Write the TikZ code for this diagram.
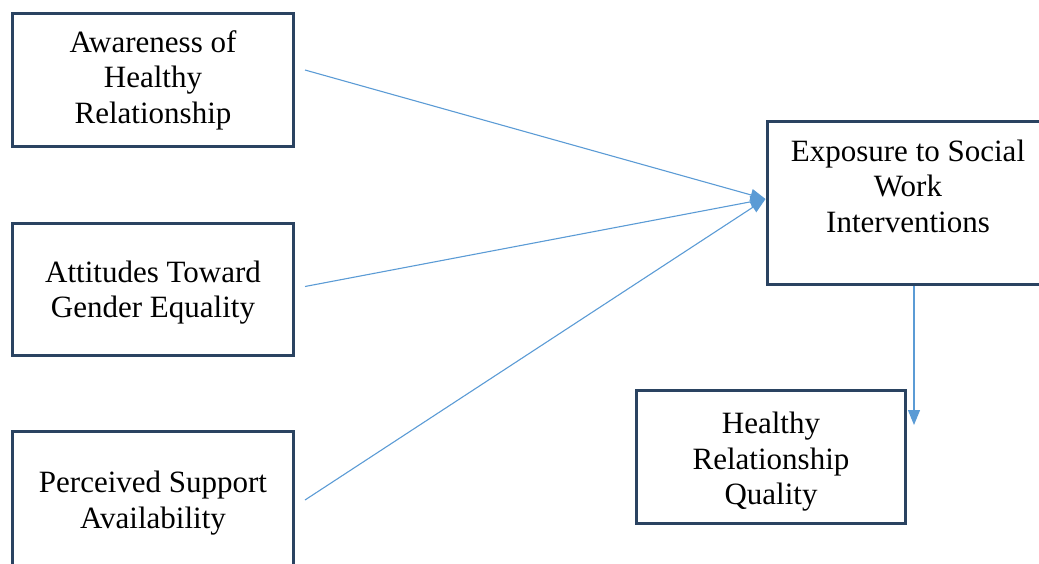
\documentclass[tikz,border=0pt]{standalone}
\usepackage{fontspec}
\setmainfont{Liberation Serif}
\usetikzlibrary{arrows.meta}
\definecolor{boxline}{HTML}{2A4361}
\definecolor{arrowblue}{HTML}{5B9BD5}
\begin{document}
\begin{tikzpicture}[x=1pt,y=-1pt,
  box/.style={draw=boxline, line width=3pt, rectangle, fill=white,
    inner sep=0pt},
  label text/.style={align=center, inner sep=0pt,
    font=\fontsize{31}{35.5}\selectfont},
  link/.style={draw=arrowblue, line width=1.1pt,
    -{Triangle[length=15pt,width=12pt]}}]
\useasboundingbox (0,0) rectangle (1039,563);
\clip (0,0) rectangle (1039,563);

% left column: the three predictors
\node[box, minimum width=281pt, minimum height=133pt] (aware) at (153,80) {};
\node[label text] (awaretext) at (aware.center)
  {Awareness of\\Healthy\\Relationship};
\node[box, minimum width=281pt, minimum height=132pt] (attit) at (153,289.5) {};
\node[label text] (attittext) at ([yshift=-3pt]attit.center)
  {Attitudes Toward\\Gender Equality};
\node[box, minimum width=281pt, minimum height=135pt] (support) at (153,499) {};
\node[label text] (supporttext) at ([yshift=-4pt]support.center)
  {Perceived Support\\Availability};

% mediator (its text sits in the upper part of the box)
\node[box, minimum width=278pt, minimum height=163pt] (expo) at (906,203) {};
\node[label text] (expotext) at ([xshift=2pt,yshift=17pt]expo.center)
  {Exposure to Social\\Work\\Interventions};

% outcome
\node[box, minimum width=269pt, minimum height=133pt] (quality) at (771,457) {};
\node[label text] (qualitytext) at ([yshift=-5pt]quality.center)
  {Healthy\\Relationship\\Quality};

% loose ends of the connectors
\coordinate (s1) at ([shift={(10pt,10pt)}]aware.east);
\coordinate (s2) at ([shift={(10pt,3pt)}]attit.east);
\coordinate (s3) at ([shift={(10pt,-1pt)}]support.east);
\coordinate (hit) at ([yshift=4pt]expo.west);
\coordinate (down) at ([xshift=8pt]expo.south);
\coordinate (end) at ([shift={(7pt,-36pt)}]quality.north east);

\draw[link] (s1) -- (hit);
\draw[link] (s2) -- (hit);
\draw[link] (s3) -- (hit);
\draw[link] (down) -- (end);
\end{tikzpicture}
\end{document}
